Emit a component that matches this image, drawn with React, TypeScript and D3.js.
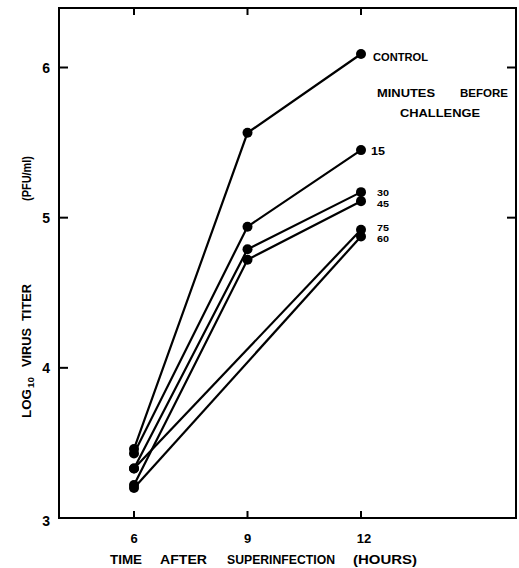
import React from "react";
import * as d3 from "d3";

const hours = [6, 9, 12];
const seriesNames = ["CONTROL", "15", "30", "45", "75", "60"];
const controlValues = [3.46, 5.565, 6.09];
const min15Values = [3.43, 4.94, 5.45];
const min30Values = [3.33, 4.79, 5.17];
const min45Values = [3.22, 4.72, 5.11];
const min75Values = [3.33, null, 4.92];
const min60Values = [3.2, null, 4.875];
const yTicks = [3, 4, 5, 6];
const xTicks = [6, 9, 12];

const allSeries = [controlValues, min15Values, min30Values, min45Values, min75Values, min60Values];

const W = 519;
const H = 568;
const FL = 59, FR = 516, FT = 8, FB = 518;

export default function App() {
  const x = d3.scaleLinear().domain([6, 12]).range([134, 361]);
  const y = d3.scaleLinear().domain([3, 6]).range([518, 67.5]);
  const font = "'Liberation Sans', Arial, sans-serif";

  const line = d3
    .line<[number, number]>()
    .x((d) => x(d[0]))
    .y((d) => y(d[1]));

  const pts = allSeries.map((vals) =>
    hours
      .map((h, i) => [h, vals[i]] as [number, number | null])
      .filter((p) => p[1] !== null) as [number, number][]
  );

  const labelPos: { [k: string]: [number, number, number, number] } = {
    CONTROL: [373, 61, 55, 11],
    "15": [371, 155, 14, 11],
    "30": [377, 195.5, 12, 9],
    "45": [377, 206.5, 12, 9],
    "75": [377, 231, 12, 9],
    "60": [377, 242, 12, 9],
  };

  const words: [string, number, number, number][] = [
    ["MINUTES", 377, 97, 58],
    ["BEFORE", 460, 97, 48],
    ["CHALLENGE", 400, 117, 80],
  ];

  return (
    <svg
      width={W}
      height={H}
      style={{ position: "absolute", left: 0, top: 0, background: "#fff" }}
    >
      <rect x={0} y={0} width={W} height={H} fill="#fff" />
      <rect
        x={FL}
        y={FT}
        width={FR - FL}
        height={FB - FT}
        fill="none"
        stroke="#000"
        strokeWidth={2}
      />
      {xTicks.map((t) => (
        <g key={"xt" + t}>
          <line x1={x(t)} x2={x(t)} y1={FT} y2={FT + 7} stroke="#000" strokeWidth={2} />
          <line x1={x(t)} x2={x(t)} y1={FB} y2={FB - 7} stroke="#000" strokeWidth={2} />
          <text
            x={x(t) + (t === 12 ? 3 : 0)}
            y={543}
            textAnchor="middle"
            fontFamily={font}
            fontWeight="bold"
            fontSize={13}
          >
            {t}
          </text>
        </g>
      ))}
      {yTicks.map((t) => (
        <g key={"yt" + t}>
          {t > 3 && (
            <line x1={FL} x2={FL + 9} y1={y(t)} y2={y(t)} stroke="#000" strokeWidth={2} />
          )}
          {(t === 5 || t === 6) && (
            <line x1={FR} x2={FR - 9} y1={y(t)} y2={y(t)} stroke="#000" strokeWidth={2} />
          )}
          <text
            x={50}
            y={y(t) + (t === 3 ? 8 : 5)}
            textAnchor="end"
            fontFamily={font}
            fontWeight="bold"
            fontSize={14}
          >
            {t}
          </text>
        </g>
      ))}
      {pts.map((p, i) => (
        <path
          key={"l" + i}
          d={line(p) || ""}
          fill="none"
          stroke="#000"
          strokeWidth={2.2}
        />
      ))}
      {pts.map((p, i) =>
        p.map((d, j) => (
          <circle key={"c" + i + "-" + j} cx={x(d[0])} cy={y(d[1])} r={5} fill="#000" />
        ))
      )}
      {seriesNames.map((n) => (
        <text
          key={"sl" + n}
          x={labelPos[n][0]}
          y={labelPos[n][1]}
          fontFamily={font}
          fontWeight="bold"
          fontSize={labelPos[n][3]}
          textLength={labelPos[n][2]}
          lengthAdjust="spacingAndGlyphs"
        >
          {n}
        </text>
      ))}
      {words.map(([w, x0, y0, len]) => (
        <text
          key={"mw" + w}
          x={x0}
          y={y0}
          fontFamily={font}
          fontWeight="bold"
          fontSize={11.5}
          textLength={len}
          lengthAdjust="spacingAndGlyphs"
        >
          {w}
        </text>
      ))}
      {[
        ["TIME", 110, 32],
        ["AFTER", 160, 47],
        ["SUPERINFECTION", 227, 108],
        ["(HOURS)", 353, 64],
      ].map(([w, x0, len]) => (
        <text
          key={"xw" + w}
          x={x0 as number}
          y={564}
          fontFamily={font}
          fontWeight="bold"
          fontSize={13}
          textLength={len as number}
          lengthAdjust="spacingAndGlyphs"
        >
          {w}
        </text>
      ))}
      <g transform="translate(31,0) rotate(-90)">
        <text x={-418} y={0} fontFamily={font} fontWeight="bold" fontSize={13} textLength={29} lengthAdjust="spacingAndGlyphs">
          LOG
        </text>
        <text x={-388} y={3} fontFamily={font} fontWeight="bold" fontSize={9} textLength={11} lengthAdjust="spacingAndGlyphs">
          10
        </text>
        <text x={-367} y={0} fontFamily={font} fontWeight="bold" fontSize={13} textLength={39} lengthAdjust="spacingAndGlyphs">
          VIRUS
        </text>
        <text x={-321} y={0} fontFamily={font} fontWeight="bold" fontSize={13} textLength={37} lengthAdjust="spacingAndGlyphs">
          TITER
        </text>
        <text x={-201} y={0} fontFamily={font} fontWeight="bold" fontSize={12} textLength={45} lengthAdjust="spacingAndGlyphs">
          (PFU/ml)
        </text>
      </g>
    </svg>
  );
}
